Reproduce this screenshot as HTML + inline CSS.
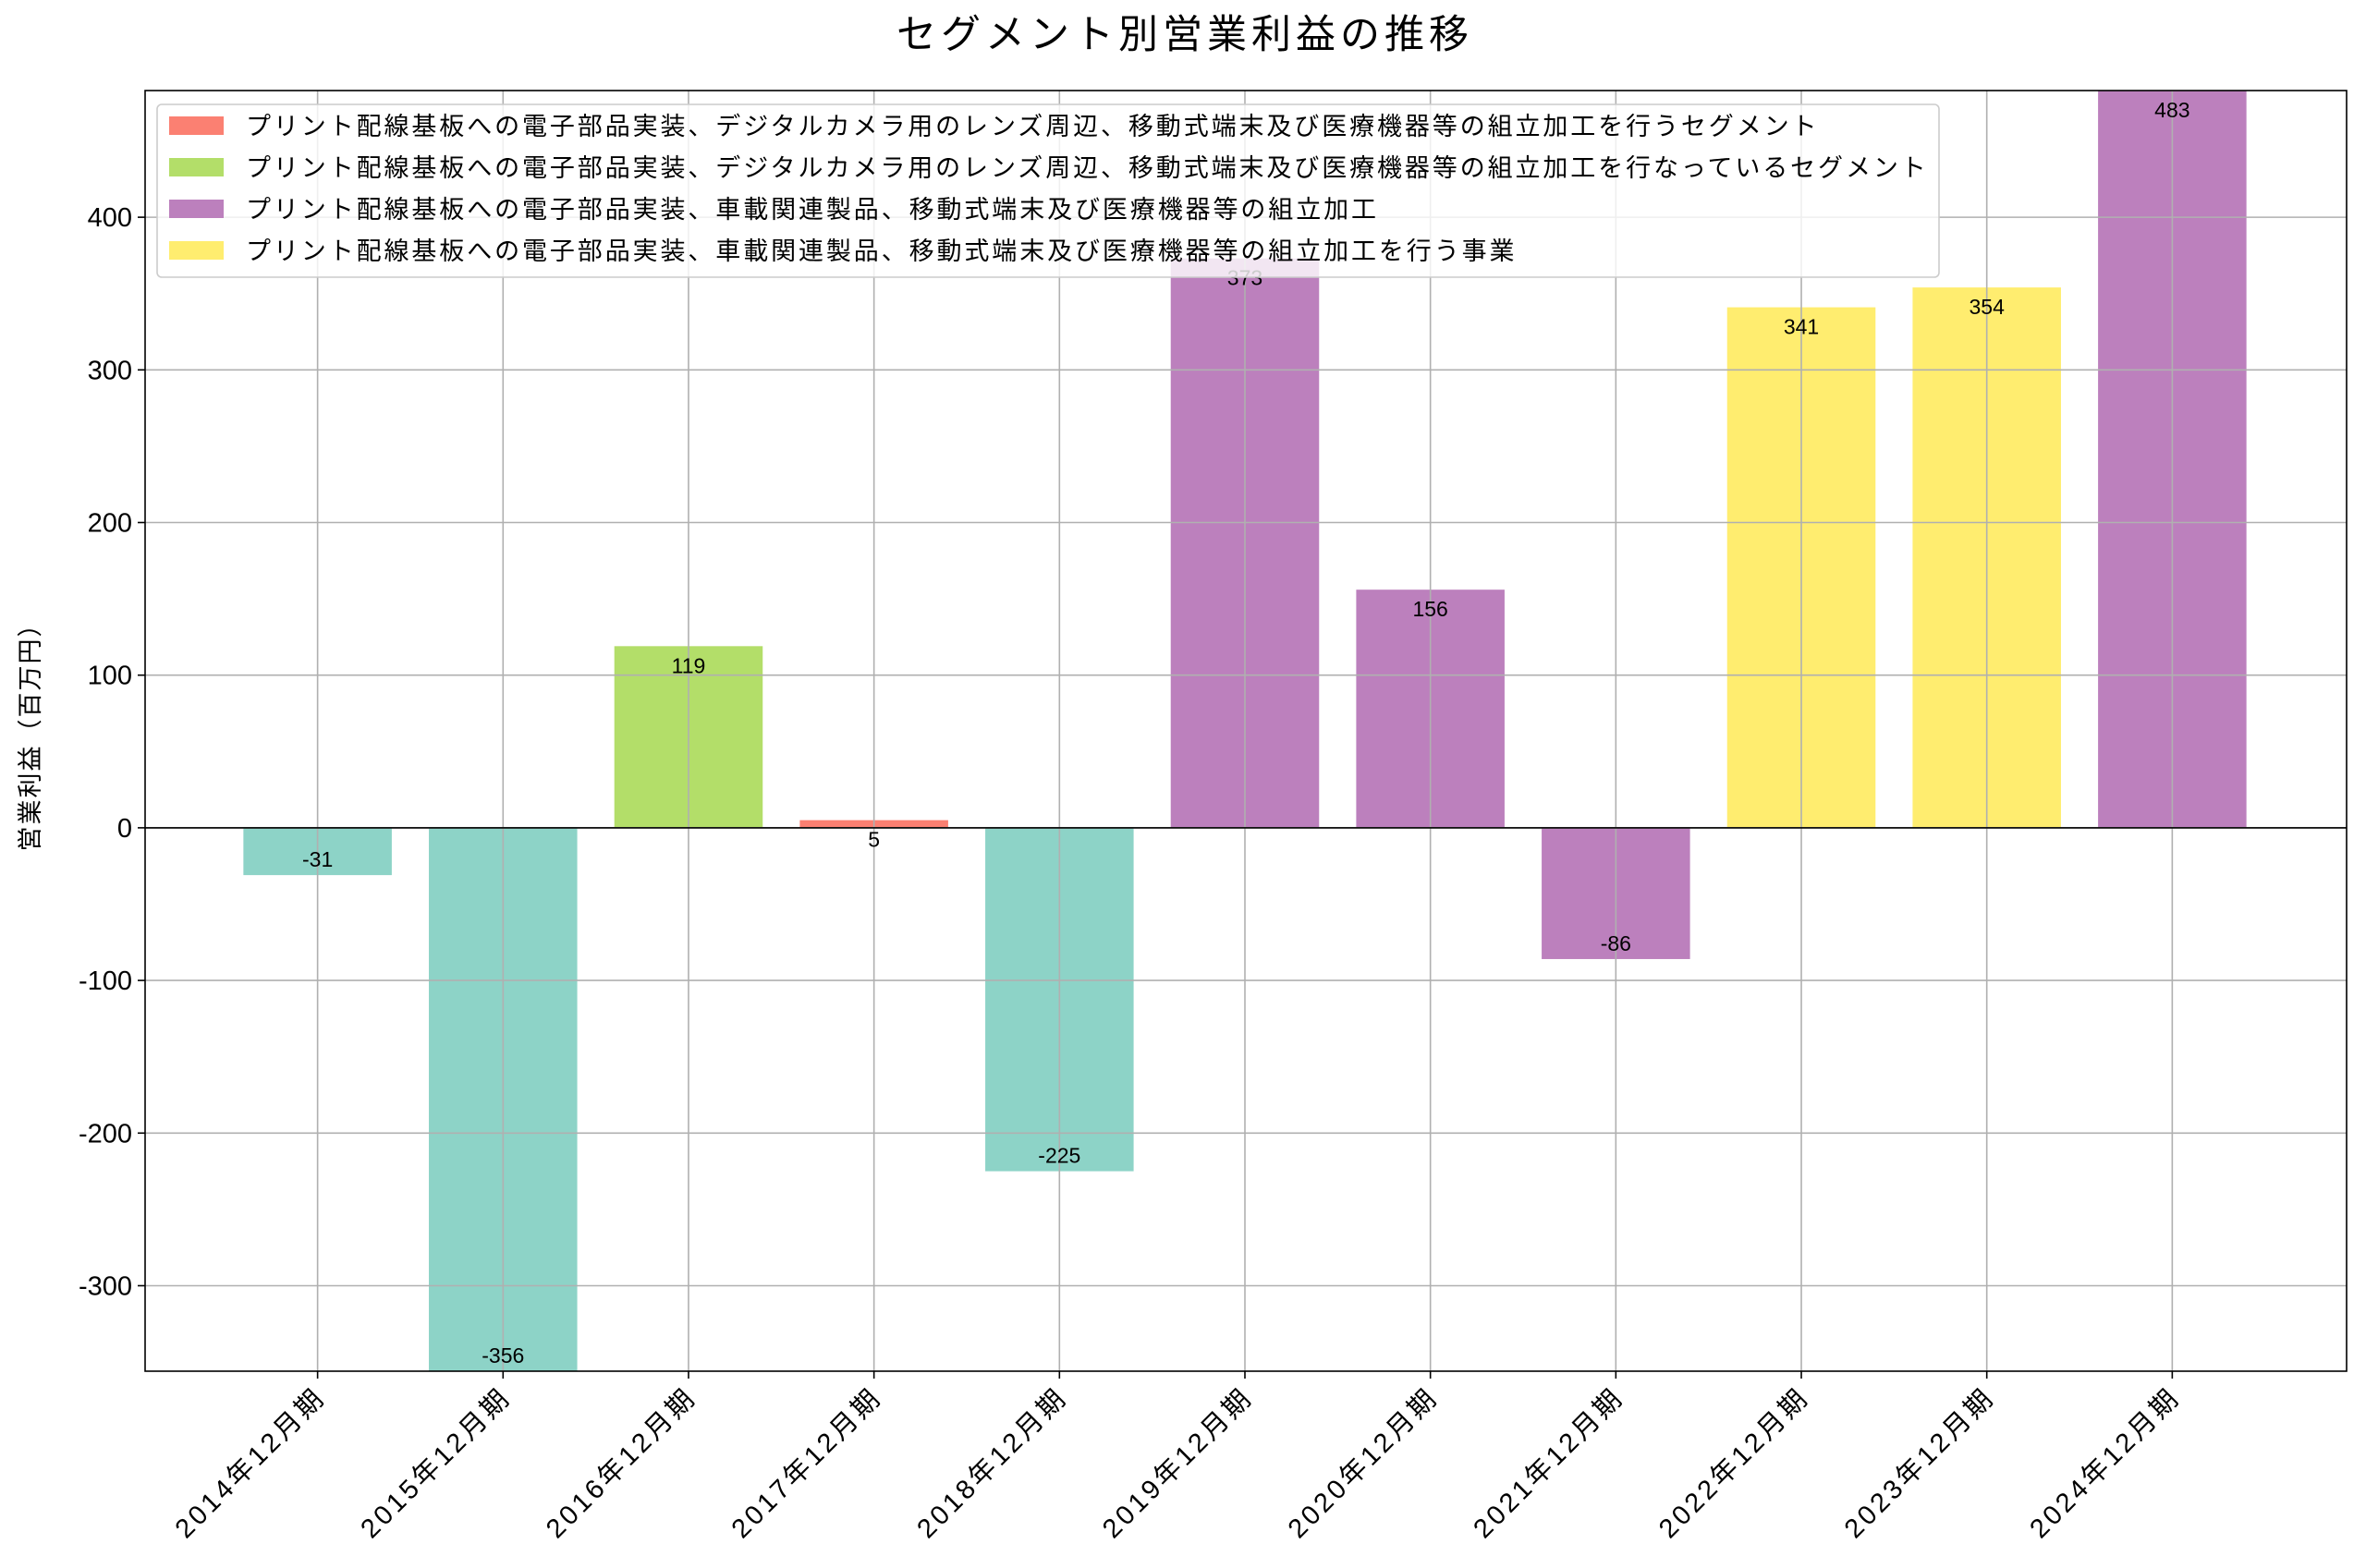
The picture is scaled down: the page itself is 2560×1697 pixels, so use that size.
<!DOCTYPE html>
<html><head><meta charset="utf-8">
<style>
html,body{margin:0;padding:0;background:#fff;}
svg{display:block;font-family:"Liberation Sans","Noto Sans CJK JP",sans-serif;}
</style></head>
<body>
<svg id="chart" width="2560" height="1697" viewBox="0 0 2560 1697" xmlns="http://www.w3.org/2000/svg">
<text x="1282" y="52" font-size="43" letter-spacing="5" text-anchor="middle">セグメント別営業利益の推移</text>
<text transform="translate(42,791) rotate(-90)" font-size="27" letter-spacing="2" text-anchor="middle">営業利益（百万円）</text>
<g id="grid"></g><g id="bars"></g><g id="axes"></g><g id="legend"></g>
</svg>
<script>
const categories=["2014年12月期","2015年12月期","2016年12月期","2017年12月期","2018年12月期","2019年12月期","2020年12月期","2021年12月期","2022年12月期","2023年12月期","2024年12月期"];
const values=[-31,-356,119,5,-225,373,156,-86,341,354,483];
const segIndex=[0,0,2,1,0,3,3,3,4,4,3];
const segColors=["#8dd3c7","#fb8072","#b3de69","#bc80bd","#ffed6f"];
const legendLabels=["プリント配線基板への電子部品実装、デジタルカメラ用のレンズ周辺、移動式端末及び医療機器等の組立加工を行うセグメント","プリント配線基板への電子部品実装、デジタルカメラ用のレンズ周辺、移動式端末及び医療機器等の組立加工を行なっているセグメント","プリント配線基板への電子部品実装、車載関連製品、移動式端末及び医療機器等の組立加工","プリント配線基板への電子部品実装、車載関連製品、移動式端末及び医療機器等の組立加工を行う事業"];
const legendSeg=[1,2,3,4];
const yTicks=[-300,-200,-100,0,100,200,300,400];
const yMin=-356,yMax=483;
const L=157,R=2539,T=98,B=1484;
const NS="http://www.w3.org/2000/svg";
const xMin=-0.93,xMax=10.94;
function X(i){return L+(i-xMin)/(xMax-xMin)*(R-L);}
function Y(v){return B-(v-yMin)/(yMax-yMin)*(B-T);}
function mk(tag,attrs,parent,text){const e=document.createElementNS(NS,tag);for(const k in attrs)e.setAttribute(k,attrs[k]);if(text!==undefined)e.textContent=text;parent.appendChild(e);return e;}
const grid=document.getElementById('grid'),bars=document.getElementById('bars'),axes=document.getElementById('axes'),leg=document.getElementById('legend');
const bw=0.8*(X(1)-X(0));
values.forEach((v,i)=>{
  const y0=Y(0),y1=Y(v);
  const r=mk('rect',{x:X(i)-bw/2,y:Math.min(y0,y1),width:bw,height:Math.abs(y1-y0),fill:segColors[segIndex[i]]},bars);
  
  
});
categories.forEach((c,i)=>{
  const l=mk('line',{x1:X(i),x2:X(i),y1:T,y2:B,stroke:'#b0b0b0','stroke-width':1.6},axes);
  
  
  mk('line',{x1:X(i),x2:X(i),y1:B,y2:B+8,stroke:'#000','stroke-width':1.6},axes);
  const t=mk('text',{transform:`translate(${X(i)+10},${B+30}) rotate(-45)`,'font-size':29,'letter-spacing':3.5,'text-anchor':'end'},axes,c);
  
  
});
yTicks.forEach(v=>{
  const l=mk('line',{x1:L,x2:R,y1:Y(v),y2:Y(v),stroke:'#b0b0b0','stroke-width':1.6},axes);
  
  
  mk('line',{x1:L-8,x2:L,y1:Y(v),y2:Y(v),stroke:'#000','stroke-width':1.6},axes);
  const t=mk('text',{x:L-14,y:Y(v)+10,'font-size':29,'text-anchor':'end'},axes,String(v));
  
  
});
mk('line',{x1:L,x2:R,y1:Y(0),y2:Y(0),stroke:'#000','stroke-width':1.6},axes);
values.forEach((v,i)=>{
  const cy=v>=0?Y(v)+21:Y(v)-17;
  const t=mk('text',{x:X(i),y:cy+8,'font-size':23,'text-anchor':'middle'},axes,String(v));
  
  
});
mk('rect',{x:L,y:T,width:R-L,height:B-T,fill:'none',stroke:'#000','stroke-width':1.6},axes);
const lb=mk('rect',{x:170,y:113,width:1928,height:187,rx:5,fill:'rgba(255,255,255,0.8)',stroke:'#ccc','stroke-width':1.6},leg);


legendLabels.forEach((lab,k)=>{
  const cy=136+k*45;
  mk('rect',{x:183,y:cy-10,width:59,height:20,fill:segColors[legendSeg[k]]},leg);
  const t=mk('text',{x:266,y:cy+10,'font-size':27,'letter-spacing':2.9},leg,lab);
  
  
});
</script>
</body></html>
